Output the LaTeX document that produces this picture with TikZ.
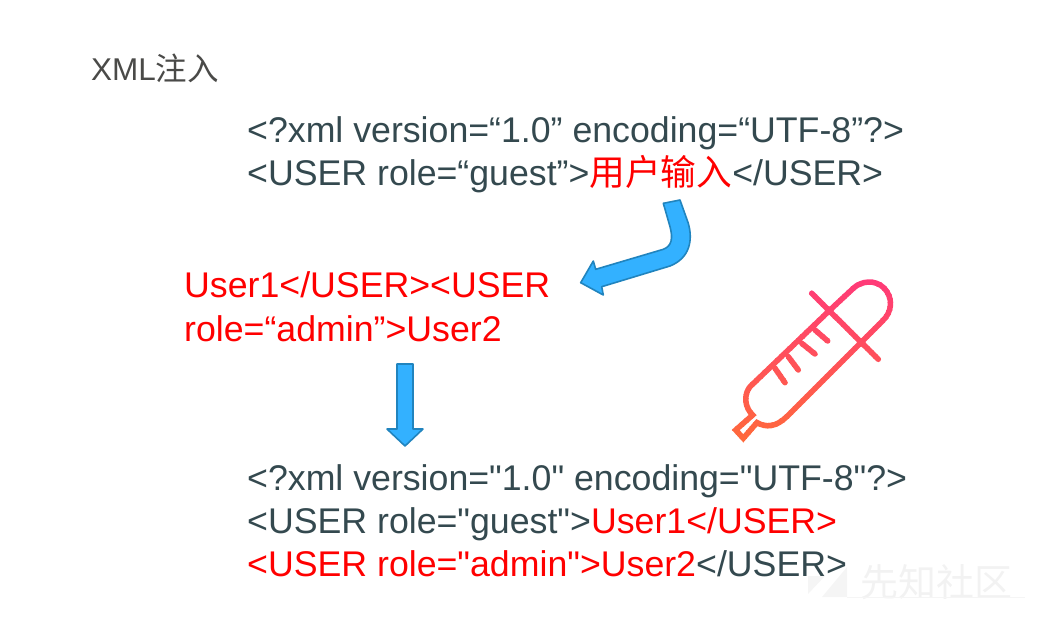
\documentclass[tikz,border=0pt]{standalone}
\usepackage{fontspec}
\setmainfont{Liberation Sans}[Ligatures=TeXOff]
\newfontfamily\cjk{Noto Sans CJK SC}
\definecolor{codeGray}{HTML}{34494F}
\definecolor{titleGray}{HTML}{4A4A48}
\definecolor{injectRed}{HTML}{FF0000}
\definecolor{arrowBlue}{HTML}{33B1FF}
\definecolor{arrowEdge}{HTML}{2184BE}
\definecolor{pipetteTop}{HTML}{FF3A78}
\definecolor{pipetteLow}{HTML}{FF6A3A}
\tikzset{
    code/.style={anchor=base west, inner sep=0pt, text=codeGray, font=\fontsize{35.7}{36}\selectfont},
    inject/.style={code, text=injectRed},
    blockArrow/.style={fill=arrowBlue, draw=arrowEdge, line width=1.6pt, line join=round}
}
\newcommand{\red}[1]{\textcolor{injectRed}{#1}}
\begin{document}
\begin{tikzpicture}[x=1pt, y=-1pt]
    \useasboundingbox (0,0) rectangle (1049,621);

    % Nodes
    \node[code, text=titleGray, font=\fontsize{31.5}{32}\selectfont] (Title) at (91, 80) {XML{\cjk 注入}};
    \node[code] (XmlHead) at (247, 142) {<?xml version=“1.0” encoding=“UTF-8”?>};
    \node[code] (UserLine) at (247, 185) {<USER role=“guest”>\red{\cjk 用户输入}</USER>};
    \node[inject] (PayloadA) at (184, 297) {User1</USER><USER};
    \node[inject] (PayloadB) at (184, 341) {role=“admin”>User2};
    \node[code] (ResultHead) at (247, 490) {<?xml version="1.0" encoding="UTF-8"?>};
    \node[code] (ResultA) at (247, 533) {<USER role="guest">\red{User1</USER>}};
    \node[code] (ResultB) at (247, 576) {\red{<USER role="admin">User2}</USER>};
    \node[anchor=base west, inner sep=0pt, text=black!5, font=\cjk\fontsize{38}{38}\selectfont] (Mark) at (860, 596) {先知社区};

    % Arrows
    \draw[blockArrow] (663.3,203.3) -- (680,200) -- (688.3,223.3)
        .. controls (693,240) and (690,258) .. (670,266)
        -- (601.7,286.7) -- (603.3,295) -- (580.7,282.7) -- (593.3,261) -- (595.7,269.3)
        -- (663.3,249.3) .. controls (672,246) and (673,238) .. (670,226.7) -- cycle;
    \draw[blockArrow] (397,364) -- (413,364) -- (413,429) -- (423,429) -- (405,446) -- (387,429) -- (397,429) -- cycle;

    % Watermark logo
    \fill[black!4] (808,576) -- (825,576) -- (808,594) -- cycle;
    \fill[black!4] (847,567) -- (847,597) -- (822,597) -- cycle;
    \draw[black!4, line width=1pt] (847,597) -- (1025,597);

    % Pipette
    \foreach \i in {0,...,41} {
        \pgfmathsetmacro\bandTop{278+4*\i}
        \pgfmathsetmacro\bandMix{100*\i/41}
        \begin{scope}
            \clip (720,\bandTop) rectangle (900,\bandTop+4.4);
            \draw[pipetteLow!\bandMix!pipetteTop, line width=5.5pt, line cap=round, line join=miter]
                (830,310) -- (853.3,288.3) .. controls (861,281) and (875,279) .. (884,288)
                .. controls (893,297) and (893,312) .. (881.7,321.7)
                -- (786.7,416.7) .. controls (776,427) and (766,428) .. (757,422.5)
                -- (743.3,438.3) -- (735.7,430) -- (752.7,415)
                .. controls (744,407) and (744,394) .. (750,386.7) -- cycle
                (811.7,293.3) -- (878.3,359.3)
                (775,368.3) -- (785,382.7) (788.3,356.7) -- (798.3,370)
                (801.7,343.3) -- (815,354) (815,330) -- (827.7,341);
        \end{scope}
    }
\end{tikzpicture}
\end{document}
